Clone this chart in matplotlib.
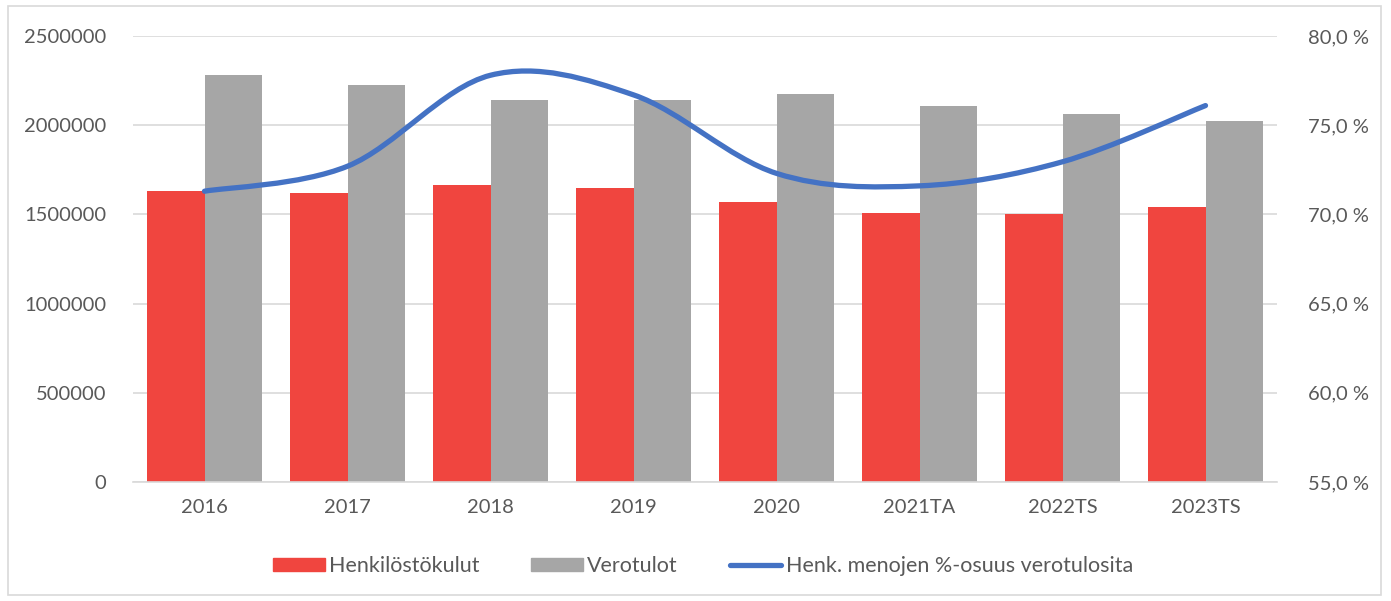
import numpy as np
import matplotlib.pyplot as plt
from matplotlib.path import Path
from matplotlib.patches import PathPatch
from matplotlib.lines import Line2D
from matplotlib.patches import Patch
from matplotlib.ticker import FuncFormatter, MultipleLocator

plt.rcParams['font.family'] = ['Lato', 'DejaVu Sans']

years = ['2016', '2017', '2018', '2019', '2020', '2021TA', '2022TS', '2023TS']
henkilosto = [1630000, 1620000, 1665000, 1648000, 1572000, 1508000, 1505000, 1541000]
verotulot = [2281000, 2225000, 2141000, 2141000, 2175000, 2108000, 2063000, 2024000]
osuus = [71.3, 72.7, 77.8, 76.7, 72.3, 71.6, 72.95, 76.1]

RED = '#f0453f'
GRAY = '#a6a6a6'
BLUE = '#4472c4'
TXT = '#595959'
GRID = '#d9d9d9'

fig = plt.figure(figsize=(13.91, 6.01), dpi=100)
ax = fig.add_axes([133/1391, 1-482/601, 1144/1391, 446/601])
x = np.arange(len(years))
w = 0.4
ax.bar(x - w/2, henkilosto, w, color=RED, zorder=2)
ax.bar(x + w/2, verotulot, w, color=GRAY, zorder=2)
ax.set_xlim(-0.5, len(years) - 0.5)
ax.set_ylim(0, 2500000)
ax.yaxis.set_major_locator(MultipleLocator(500000))
ax.yaxis.set_major_formatter(FuncFormatter(lambda v, p: f'{int(v)}'))
ax.grid(axis='y', color=GRID, lw=1.2, zorder=0)
for s in ['top', 'right', 'left']:
    ax.spines[s].set_visible(False)
ax.spines['bottom'].set_color(GRID)
ax.spines['bottom'].set_linewidth(1.2)
ax.set_xticks(x)
ax.set_xticklabels(years)
ax.tick_params(axis='both', length=0, labelsize=14.5, colors=TXT)
ax.tick_params(axis='y', pad=19)
ax.tick_params(axis='x', pad=12)

ax2 = ax.twinx()
ax2.set_ylim(55, 80)
ax2.yaxis.set_major_locator(MultipleLocator(5))
ax2.yaxis.set_major_formatter(FuncFormatter(lambda v, p: f'{v:.1f}'.replace('.', ',') + ' %'))
for s in ax2.spines.values():
    s.set_visible(False)
ax2.tick_params(axis='y', length=0, labelsize=14.5, colors=TXT, pad=22)

# smoothed line (Catmull-Rom style Bezier segments, like Excel)
pts = np.column_stack([x, osuus])
verts = [pts[0]]
codes = [Path.MOVETO]
n = len(pts)
for i in range(n - 1):
    p0 = pts[max(i - 1, 0)]
    p1 = pts[i]
    p2 = pts[i + 1]
    p3 = pts[min(i + 2, n - 1)]
    c1 = p1 + (p2 - p0) / 6
    c2 = p2 - (p3 - p1) / 6
    verts += [c1, c2, p2]
    codes += [Path.CURVE4] * 3
ax2.add_patch(PathPatch(Path(verts, codes), fill=False, edgecolor=BLUE, lw=3.8,
                        capstyle='round', zorder=3))

handles = [Patch(color=RED, label='Henkilöstökulut'),
           Patch(color=GRAY, label='Verotulot'),
           Line2D([0], [0], color=BLUE, lw=3.8, solid_capstyle='round',
                  label='Henk. menojen %-osuus verotulosita')]
fig.legend(handles=handles, loc='center', bbox_to_anchor=(703/1391, 1-566/601),
           ncol=3, frameon=False, fontsize=15.5, labelcolor=TXT,
           handlelength=2.4, handleheight=0.6, columnspacing=2.4, handletextpad=0.2)

fig.add_artist(plt.Rectangle((8/1391, 6/601), 1373/1391, 589/601, fill=False,
                             edgecolor=GRID, lw=1.2, transform=fig.transFigure))

fig.savefig('out.png', dpi=100)
